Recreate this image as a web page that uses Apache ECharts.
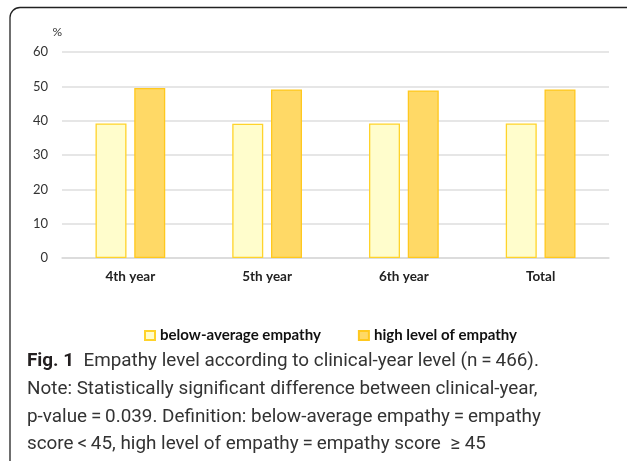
<!DOCTYPE html>
<html>
<head>
<meta charset="utf-8">
<script src="https://cdn.jsdelivr.net/npm/echarts@6/dist/echarts.min.js"></script>
<style>
  html, body { margin: 0; padding: 0; background: #fff; }
  #chart { width: 627px; height: 461px; }
</style>
</head>
<body>
<div id="chart"></div>
<script>
// data
var categories = ['4th year', '5th year', '6th year', 'Total'];
var belowAverage = [39.2, 39.1, 39.2, 39.2];
var highLevel = [49.5, 49.1, 48.8, 49.1];
var seriesNames = ['below-average empathy', 'high level of empathy'];
var yTicks = { min: 0, max: 60, interval: 10 };

var captionHead = 'Fig. 1';
var captionLines = [
  'Empathy level according to clinical-year level (n\u2009=\u2009466).',
  'Note: Statistically significant difference between clinical-year,',
  'p-value\u2009=\u20090.039. Definition: below-average empathy\u2009=\u2009empathy',
  'score\u2009<\u200945, high level of empathy\u2009=\u2009empathy score  \u2265 45'
];

var chartFont = 'Lato';
var capFont = 'Roboto';

// size fonts so that text spans about the same width as in the figure
var ctx = document.createElement('canvas').getContext('2d');
function fitSize(text, weight, family, target) {
  ctx.font = weight + ' 20px ' + family;
  return 20 * target / ctx.measureText(text).width;
}
var capSize = fitSize(captionLines[1], 'normal', capFont, 511);
var legendSize = fitSize(seriesNames[0], 'bold', chartFont, 161);

var chart = echarts.init(document.getElementById('chart'));

var graphics = [
  {
    type: 'rect',
    shape: { x: 10, y: 7.5, width: 640, height: 480, r: 10 },
    style: { fill: 'none', stroke: '#222', lineWidth: 1.3 },
    silent: true
  }
];
captionLines.forEach(function (line, i) {
  var txt = i === 0 ? '{b|' + captionHead + '}  ' + line : line;
  graphics.push({
    type: 'text',
    style: {
      x: 27, y: 361.5 + i * 27.7,
      verticalAlign: 'middle',
      text: txt,
      rich: { b: { fontFamily: capFont, fontWeight: 'bold', fontSize: capSize, fill: '#231f20' } },
      fontFamily: capFont, fontSize: capSize, fill: '#333'
    }
  });
});

chart.setOption({
  animation: false,
  textStyle: { fontFamily: chartFont },
  grid: { left: 62, right: 18, top: 52, height: 206 },
  legend: {
    data: seriesNames,
    top: 323,
    left: 139,
    itemWidth: 10,
    itemHeight: 9,
    itemGap: 37,
    textStyle: { fontWeight: 'bold', fontSize: legendSize, color: '#111' },
    icon: 'rect'
  },
  xAxis: {
    type: 'category',
    data: categories,
    axisLine: { lineStyle: { color: '#d9d9d9', width: 1.5 } },
    axisTick: { show: false },
    axisLabel: { fontWeight: 'bold', fontSize: 13.5, color: '#222', margin: 12 },
    splitLine: { show: false }
  },
  yAxis: {
    type: 'value',
    min: yTicks.min,
    max: yTicks.max,
    interval: yTicks.interval,
    name: '%',
    nameGap: 14,
    nameTextStyle: { fontSize: 12, color: '#333', align: 'right' },
    axisLine: { show: false },
    axisTick: { show: false },
    axisLabel: { fontSize: 13, color: '#333', margin: 14 },
    splitLine: { lineStyle: { color: '#dedede', width: 1.5 } }
  },
  series: [
    {
      name: seriesNames[0],
      type: 'bar',
      data: belowAverage,
      barWidth: 31,
      barGap: '25%',
      itemStyle: { color: '#fffdcc', borderColor: '#ffd32a', borderWidth: 1.3 }
    },
    {
      name: seriesNames[1],
      type: 'bar',
      data: highLevel,
      barWidth: 31,
      barGap: '25%',
      itemStyle: { color: '#ffd966', borderColor: '#ffc81e', borderWidth: 1.3 }
    }
  ],
  graphic: graphics
});
</script>
</body>
</html>
